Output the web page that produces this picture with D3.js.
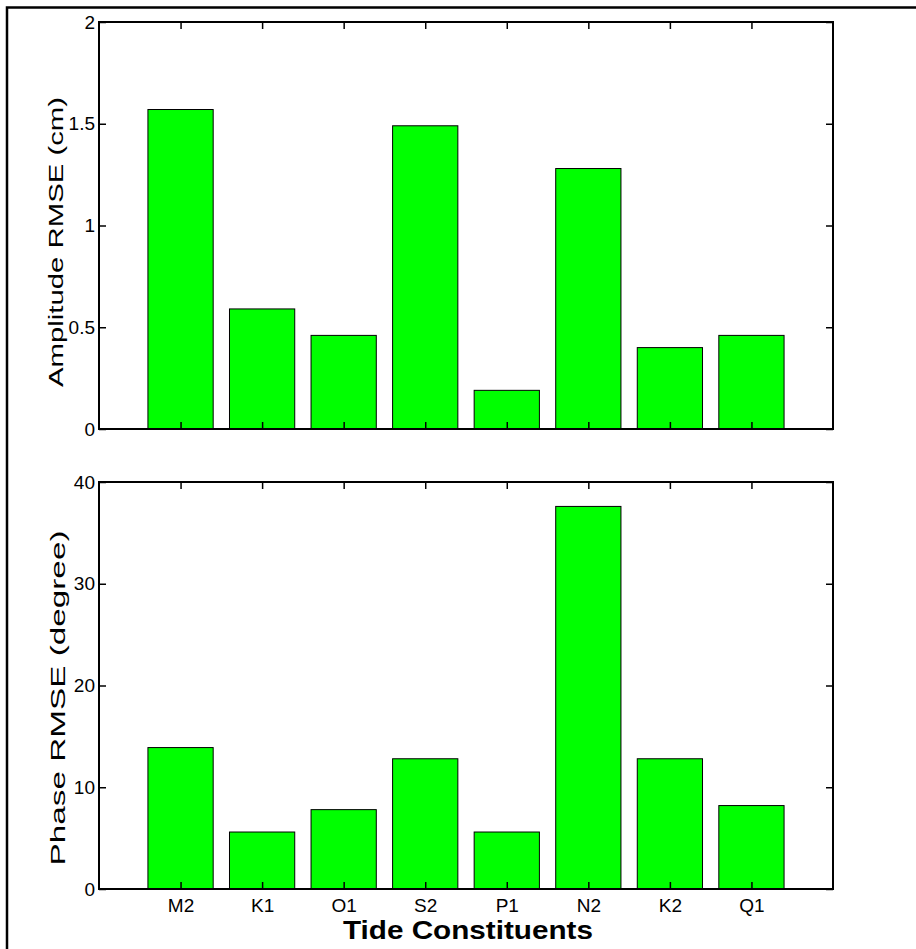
<!DOCTYPE html>
<html><head><meta charset="utf-8">
<script src="https://cdn.jsdelivr.net/npm/d3@7"></script>
<style>body{margin:0;background:#fff}svg{display:block}text{font-family:Arial,"Liberation Sans",sans-serif;fill:#000}</style>
</head><body>
<script>
const categories = ["M2","K1","O1","S2","P1","N2","K2","Q1"];
const amplitudeRMSE = [1.57,0.59,0.46,1.49,0.19,1.28,0.40,0.46];
const phaseRMSE = [13.9,5.6,7.8,12.8,5.6,37.6,12.8,8.2];
const ampTicks = [0,0.5,1,1.5,2];
const phaseTicks = [0,10,20,30,40];

const W=916,H=949;
const svg=d3.select("body").append("svg").attr("width",W).attr("height",H);
svg.append("rect").attr("width",W).attr("height",H).attr("fill","#fff");
// outer frame (left & top visible)
svg.append("rect").attr("x",7).attr("y",7.5).attr("width",1000).attr("height",1000)
  .attr("fill","none").attr("stroke","#000").attr("stroke-width",2.5);

const left=99,right=833;
const x=d3.scaleLinear().domain([0,categories.length+1]).range([left,right]);
const bw=(x(1)-x(0))*0.8;

function panel(top,bottom,data,ticks,label,labelLen,labelX,labelY,showXLabels){
  const y=d3.scaleLinear().domain([ticks[0],ticks[ticks.length-1]]).range([bottom,top]);
  const g=svg.append("g");
  g.selectAll("rect.bar").data(data).enter().append("rect").attr("class","bar")
    .attr("x",(d,i)=>x(i+1)-bw/2).attr("width",bw)
    .attr("y",d=>y(d)).attr("height",d=>y(0)-y(d))
    .attr("fill","#00ff00").attr("stroke","#000").attr("stroke-width",1);
  const tl=7;
  const yl=g.append("g").attr("transform",`translate(${left},0)`)
    .call(d3.axisLeft(y).tickValues(ticks).tickSize(-tl).tickPadding(4).tickFormat(d3.format("")));
  const yr=g.append("g").attr("transform",`translate(${right},0)`)
    .call(d3.axisRight(y).tickValues(ticks).tickSize(-tl).tickFormat(""));
  const cats=d3.range(1,categories.length+1);
  const xb=g.append("g").attr("transform",`translate(0,${bottom})`)
    .call(d3.axisBottom(x).tickValues(cats).tickSize(-tl).tickPadding(10).tickFormat(d=>showXLabels?categories[d-1]:""));
  const xt=g.append("g").attr("transform",`translate(0,${top})`)
    .call(d3.axisTop(x).tickValues(cats).tickSize(-tl).tickFormat(""));
  [yl,yr,xb,xt].forEach(a=>{
    a.select(".domain").remove();
    a.selectAll("line").attr("stroke","#000").attr("stroke-width",1.5);
    a.selectAll("text").attr("font-size",19).attr("fill","#000").attr("font-family","Arial, 'Liberation Sans', sans-serif");
  });
  g.append("rect").attr("x",left).attr("y",top).attr("width",right-left).attr("height",bottom-top)
    .attr("fill","none").attr("stroke","#000").attr("stroke-width",2);
  g.append("text").attr("transform",`translate(${labelX},${labelY}) rotate(-90)`)
    .attr("text-anchor","middle").attr("font-size",20)
    .attr("textLength",labelLen).attr("lengthAdjust","spacingAndGlyphs").text(label);
  return y;
}
panel(22,429,amplitudeRMSE,ampTicks,"Amplitude RMSE (cm)",290,63,242,false);
panel(482,889,phaseRMSE,phaseTicks,"Phase RMSE (degree)",335,65,698,true);

svg.append("text").attr("x",468).attr("y",939).attr("text-anchor","middle")
  .attr("font-size",26).attr("font-weight","bold")
  .attr("textLength",250).attr("lengthAdjust","spacingAndGlyphs").text("Tide Constituents");
</script>
</body></html>
